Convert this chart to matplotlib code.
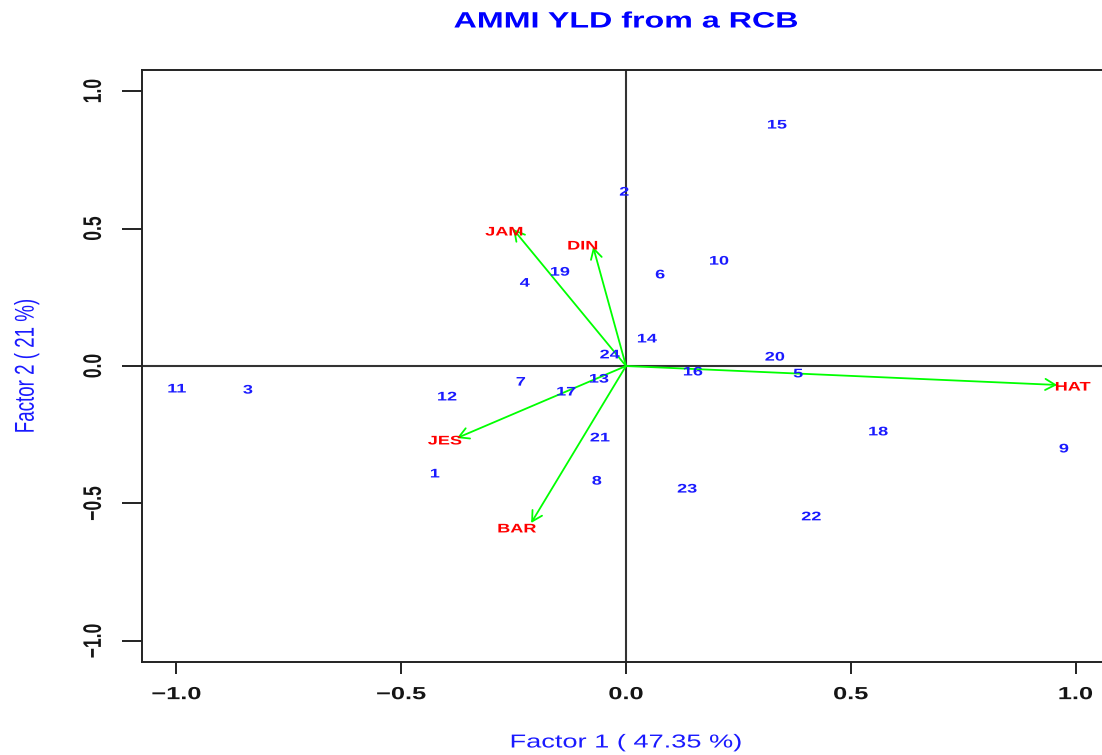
import matplotlib
matplotlib.use("Agg")
import matplotlib.pyplot as plt
from matplotlib.patheffects import AbstractPathEffect
from matplotlib.transforms import Affine2D

# ---------------- data ----------------
geno_names = ["1", "2", "3", "4", "5", "6", "7", "8", "9", "10", "11", "12",
              "13", "14", "15", "16", "17", "18", "19", "20", "21", "22", "23", "24"]
geno_x = [-0.425, -0.004, -0.841, -0.225, 0.383, 0.076, -0.234, -0.065, 0.974, 0.207,
          -0.999, -0.398, -0.060, 0.047, 0.336, 0.149, -0.133, 0.561, -0.147, 0.331,
          -0.058, 0.412, 0.136, -0.036]
geno_y = [-0.389, 0.636, -0.084, 0.305, -0.025, 0.335, -0.055, -0.415, -0.298, 0.385,
          -0.080, -0.109, -0.044, 0.102, 0.880, -0.018, -0.091, -0.236, 0.345, 0.036,
          -0.258, -0.545, -0.444, 0.044]

env_names = ["JAM", "DIN", "JES", "BAR", "HAT"]
env_x = [-0.251, -0.073, -0.376, -0.211, 0.959]      # arrow tips
env_y = [0.498, 0.433, -0.262, -0.571, -0.069]
env_lab_x = [-0.271, -0.096, -0.403, -0.2425, 0.994]  # label positions
env_lab_y = [0.491, 0.440, -0.269, -0.589, -0.073]

xticks = [-1.0, -0.5, 0.0, 0.5, 1.0]
xtick_labels = ["\u22121.0", "\u22120.5", "0.0", "0.5", "1.0"]
yticks = [-1.0, -0.5, 0.0, 0.5, 1.0]
ytick_labels = ["\u22121.0", "\u22120.5", "0.0", "0.5", "1.0"]

title = "AMMI YLD from a RCB"
xlabel = "Factor 1 ( 47.35 %)"
ylabel = "Factor 2 ( 21 %)"


# ------------- horizontal stretch of glyphs (picture is widened) -------------
class HStretch(AbstractPathEffect):
    def __init__(self, sx=1.45):
        super().__init__()
        self._sx = sx

    def draw_path(self, renderer, gc, tpath, affine, rgbFace=None):
        ext = tpath.get_extents(affine)
        cx = 0.5 * (ext.x0 + ext.x1)
        t = affine + Affine2D().translate(-cx, 0).scale(self._sx, 1).translate(cx, 0)
        renderer.draw_path(gc, tpath, t, rgbFace)


SX = 1.45
pe = [HStretch(SX)]

plt.rcParams["font.family"] = ["Liberation Sans", "DejaVu Sans"]

W, H = 1102, 755
fig = plt.figure(figsize=(W / 100, H / 100), dpi=100)
L, R, T, B = 142, 1110, 70, 662
ax = fig.add_axes([L / W, 1 - B / H, (R - L) / W, (B - T) / H])
lim = 1.0766
ax.set_xlim(-lim, lim)
ax.set_ylim(-lim, lim)

for s in ax.spines.values():
    s.set_linewidth(1.4)
    s.set_color("#222222")

ax.axhline(0, color="#333333", lw=1.5, zorder=1)
ax.axvline(0, color="#333333", lw=1.5, zorder=1)

ax.set_xticks(xticks, xtick_labels, fontsize=12.6, fontweight="bold",
              color="#151515", path_effects=pe)
ax.set_yticks(yticks, ytick_labels, fontsize=12.6, fontweight="bold",
              color="#151515", path_effects=pe, rotation=90, va="center")
ax.tick_params(axis="x", length=8.6, width=1.4, pad=9.5, color="#222222")
ax.tick_params(axis="y", length=14.4, width=1.4, pad=15, color="#222222")

# genotype labels
for n, x, y in zip(geno_names, geno_x, geno_y):
    ax.text(x, y, n, color="#1a1aff", fontsize=9, fontweight="bold",
            ha="center", va="center_baseline", path_effects=pe, zorder=3)

# environment arrows and labels
for n, x, y, lx, ly in zip(env_names, env_x, env_y, env_lab_x, env_lab_y):
    ax.annotate("", xy=(x, y), xytext=(0, 0),
                arrowprops=dict(arrowstyle="->,head_length=0.45,head_width=0.25",
                                color="#00ff00", lw=1.3, shrinkA=0, shrinkB=0,
                                mutation_scale=16), zorder=2)
    ax.text(lx, ly, n, color="#ff0000", fontsize=9, fontweight="bold",
            ha="center", va="center_baseline", path_effects=pe, zorder=3)

fig.text(626 / W, 1 - 22 / H, title, color="#0000ff", fontsize=16, fontweight="bold",
         ha="center", va="center", path_effects=pe)
fig.text(626 / W, 1 - 743 / H, xlabel, color="#1a1aff", fontsize=13.5,
         ha="center", va="center", path_effects=pe)
fig.text(27 / W, 1 - 366 / H, ylabel, color="#1a1aff", fontsize=13.5, rotation=90,
         ha="center", va="center", path_effects=pe)

fig.savefig("out.png", dpi=100)
